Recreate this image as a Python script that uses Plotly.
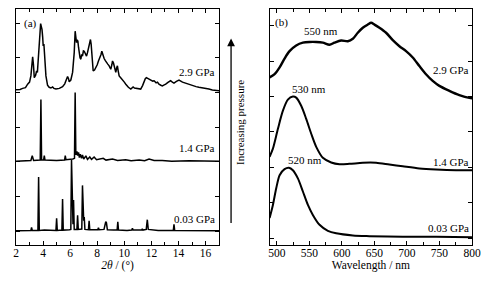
import plotly.graph_objects as go

# ---------------- Panel (a): XRD patterns (2theta, offset intensity) ----------------
xrd_29 = [(2.0, 4.08), (2.3, 4.09), (2.49, 4.12), (2.7, 4.14), (2.86, 4.24), (3.0, 4.3), (3.1, 4.48),
          (3.17, 4.7), (3.23, 5.03), (3.29, 4.8), (3.35, 4.43), (3.45, 4.5), (3.52, 4.62), (3.58, 4.58),
          (3.62, 4.86), (3.72, 5.24), (3.78, 5.7), (3.82, 5.99), (3.87, 5.9), (3.92, 5.82), (3.97, 5.6),
          (4.01, 5.34), (4.06, 5.4), (4.09, 5.15), (4.15, 4.8), (4.21, 4.48), (4.33, 4.21), (4.45, 4.15),
          (4.58, 4.13), (4.7, 4.16), (4.8, 4.12), (4.95, 4.10), (5.2, 4.12), (5.44, 4.17), (5.6, 4.25),
          (5.69, 4.34), (5.81, 4.46), (5.88, 4.4), (5.93, 4.31), (6.05, 4.36), (6.18, 4.58), (6.3, 5.15),
          (6.37, 5.77), (6.42, 5.6), (6.47, 5.44), (6.52, 5.52), (6.57, 5.48), (6.62, 5.3), (6.67, 5.05),
          (6.73, 5.0), (6.79, 4.96), (6.85, 5.1), (6.91, 5.05), (6.98, 5.2), (7.04, 5.19), (7.12, 5.1),
          (7.21, 5.05), (7.28, 5.15), (7.36, 5.29), (7.43, 5.4), (7.5, 5.53), (7.55, 5.4), (7.6, 5.15),
          (7.65, 4.85), (7.7, 4.62), (7.8, 4.65), (7.9, 4.72), (8.0, 4.8), (8.09, 4.91), (8.2, 5.0),
          (8.28, 5.1), (8.34, 5.19), (8.42, 5.05), (8.51, 4.98), (8.6, 4.92), (8.68, 4.86), (8.78, 4.82),
          (8.88, 4.77), (9.0, 4.67), (9.08, 4.8), (9.13, 4.91), (9.2, 4.85), (9.25, 4.77), (9.3, 4.7),
          (9.37, 4.58), (9.43, 4.7), (9.49, 4.77), (9.55, 4.62), (9.62, 4.48), (9.75, 4.42), (9.86, 4.38),
          (10.0, 4.3), (10.11, 4.24), (10.3, 4.15), (10.48, 4.10), (10.58, 4.13), (10.65, 4.16),
          (10.75, 4.13), (10.85, 4.12), (11.0, 4.11), (11.21, 4.10), (11.35, 4.2), (11.46, 4.34),
          (11.55, 4.4), (11.63, 4.43), (11.75, 4.4), (11.85, 4.38), (11.95, 4.36), (12.1, 4.33),
          (12.2, 4.34), (12.35, 4.28), (12.45, 4.3), (12.56, 4.24), (12.7, 4.21), (12.81, 4.19),
          (12.95, 4.22), (13.06, 4.24), (13.25, 4.3), (13.42, 4.34), (13.55, 4.3), (13.67, 4.27),
          (13.85, 4.32), (14.04, 4.36), (14.3, 4.3), (14.53, 4.27), (14.8, 4.22), (15.02, 4.19),
          (15.3, 4.17), (15.51, 4.15), (15.75, 4.14), (16.0, 4.12), (16.25, 4.1), (16.5, 4.07),
          (16.75, 4.07), (17.0, 4.05)]

xrd_14 = [(2.0, 2.02), (2.6, 2.03), (3.1, 2.04), (3.2, 2.18), (3.3, 2.04), (3.79, 2.05), (3.84, 3.8),
          (3.89, 2.05), (4.04, 2.05), (4.09, 2.18), (4.14, 2.05), (5.0, 2.04), (5.59, 2.05), (5.64, 2.18),
          (5.69, 2.06), (6.2, 2.08), (6.32, 2.1), (6.37, 4.0), (6.42, 2.2), (6.5, 2.3), (6.55, 2.18),
          (6.62, 2.27), (6.68, 2.12), (6.75, 2.22), (6.84, 2.1), (6.91, 2.2), (7.0, 2.08), (7.16, 2.17),
          (7.28, 2.07), (7.45, 2.14), (7.58, 2.07), (7.77, 2.14), (7.95, 2.06), (8.44, 2.1), (8.65, 2.05),
          (9.13, 2.08), (9.5, 2.04), (10.1, 2.06), (10.5, 2.03), (11.1, 2.05), (11.5, 2.03), (11.83, 2.08),
          (12.2, 2.04), (12.8, 2.04), (13.5, 2.02), (14.8, 2.03), (15.8, 2.02), (17.0, 2.02)]

xrd_003 = [(2.0, 0.01), (2.6, 0.02), (3.1, 0.02), (3.15, 0.11), (3.2, 0.02), (3.62, 0.02), (3.67, 1.56),
           (3.72, 0.02), (4.1, 0.03), (4.95, 0.02), (5.0, 0.37), (5.05, 0.02), (5.39, 0.03), (5.44, 0.93),
           (5.49, 0.03), (5.95, 0.04), (6.05, 0.05), (6.1, 2.05), (6.16, 0.4), (6.21, 0.2), (6.25, 0.9),
           (6.3, 0.05), (6.5, 0.05), (6.55, 0.46), (6.6, 0.05), (6.86, 0.06), (6.91, 1.32), (6.96, 0.3),
           (7.0, 0.3), (7.04, 0.41), (7.09, 0.05), (7.35, 0.04), (7.4, 0.3), (7.45, 0.04), (7.8, 0.03),
           (8.04, 0.04), (8.09, 0.1), (8.14, 0.04), (8.5, 0.05), (8.58, 0.24), (8.63, 0.27), (8.68, 0.24),
           (8.75, 0.04), (9.2, 0.03), (9.47, 0.03), (9.52, 0.27), (9.57, 0.03), (10.2, 0.02), (10.55, 0.03),
           (10.6, 0.08), (10.65, 0.03), (11.0, 0.03), (11.28, 0.03), (11.33, 0.07), (11.38, 0.03),
           (11.62, 0.05), (11.7, 0.33), (11.77, 0.05), (12.5, 0.02), (13.62, 0.02), (13.67, 0.2),
           (13.72, 0.02), (14.5, 0.02), (15.5, 0.02), (16.5, 0.01), (17.0, 0.01)]

# ---------------- Panel (b): PL spectra (wavelength nm, offset intensity) ----------------
pl_003 = [(488.8, 0.57), (493.9, 0.94), (499.0, 1.41), (504.2, 1.78), (511.8, 1.95), (518.5, 1.99),
          (524.6, 1.92), (532.3, 1.69), (540.0, 1.32), (547.7, 0.94), (555.3, 0.66), (565.6, 0.38),
          (578.4, 0.21), (591.2, 0.14), (616.8, 0.08), (642.3, 0.06), (693.5, 0.04), (744.7, 0.04),
          (801.0, 0.03)]

pl_14 = [(488.8, 2.30), (493.9, 2.53), (501.6, 3.09), (509.3, 3.60), (516.9, 3.91), (524.6, 4.00),
         (529.7, 3.97), (537.4, 3.74), (545.1, 3.37), (552.8, 2.95), (560.5, 2.58), (570.7, 2.27),
         (583.5, 2.14), (596.3, 2.09), (611.6, 2.10), (632.1, 2.13), (652.6, 2.13), (673.0, 2.08),
         (693.5, 2.03), (719.1, 1.97), (744.7, 1.94), (775.4, 1.92), (801.0, 1.92)]

pl_29 = [(488.8, 4.54), (496.5, 4.63), (504.2, 4.82), (511.8, 5.07), (519.5, 5.28), (529.7, 5.44),
         (540.0, 5.52), (550.2, 5.54), (560.5, 5.54), (570.7, 5.52), (580.9, 5.46), (588.6, 5.52),
         (598.8, 5.58), (609.1, 5.56), (616.8, 5.63), (624.4, 5.80), (632.1, 5.94), (639.8, 6.03),
         (644.9, 6.08), (650.0, 6.03), (657.7, 5.94), (667.9, 5.80), (678.2, 5.59), (688.4, 5.42),
         (698.6, 5.28), (708.9, 5.10), (719.1, 4.86), (729.3, 4.63), (739.6, 4.44), (749.8, 4.30),
         (765.2, 4.16), (780.5, 4.04), (795.9, 3.96), (802.0, 3.95)]

pressure_labels = ["2.9 GPa", "1.4 GPa", "0.03 GPa"]
peak_labels = ["550 nm", "530 nm", "520 nm"]
xrd_ticks = [2, 4, 6, 8, 10, 12, 14, 16]
pl_ticks = [500, 550, 600, 650, 700, 750, 800]

FONT = "Liberation Serif"
# The page body has an 8px default margin; size the figure so that it fits the window.
W, H = 478, 265
ML, MR, MT, MB = 8, 13.5, 0.5, 28
PW = W - ML - MR
PH = H - MT - MB
# plot-area edges in window pixels
SL, SB = 16, 245

fig = go.Figure()

def unzip(pairs):
    return [p[0] for p in pairs], [p[1] for p in pairs]

for series in (xrd_29, xrd_14, xrd_003):
    xs, ys = unzip(series)
    fig.add_trace(go.Scatter(x=xs, y=ys, mode="lines", xaxis="x", yaxis="y",
                             line=dict(color="black", width=1.5), showlegend=False, hoverinfo="skip"))

for series, w in ((pl_29, 2.4), (pl_14, 2.0), (pl_003, 2.0)):
    xs, ys = unzip(series)
    fig.add_trace(go.Scatter(x=xs, y=ys, mode="lines", xaxis="x2", yaxis="y2",
                             line=dict(color="black", width=w, shape="spline", smoothing=0.8),
                             showlegend=False, hoverinfo="skip"))

axis_common = dict(showline=True, linecolor="black", linewidth=1.3, mirror="ticks",
                   ticks="inside", ticklen=4, tickwidth=1.2, tickcolor="black",
                   showgrid=False, zeroline=False, automargin=False,
                   tickfont=dict(family=FONT, size=11.5, color="black"))

fig.update_layout(
    width=W, height=H, margin=dict(l=ML, r=MR, t=MT, b=MB, autoexpand=False),
    paper_bgcolor="white", plot_bgcolor="white",
    font=dict(family=FONT, size=11, color="black"),
    xaxis=dict(domain=[0, (219.3 - SL) / PW], range=[2, 17], tickvals=xrd_ticks, ticklabelstandoff=-3,
               minor=dict(dtick=1, tick0=0, ticks="inside", ticklen=3, tickcolor="black", tickwidth=1.0),
               title=dict(text="<i>2θ</i> / (°)", font=dict(family=FONT, size=11.5), standoff=0),
               anchor="y", **axis_common),
    yaxis=dict(domain=[0, 1], range=[-0.4, 6.41], dtick=1, tick0=0, showticklabels=False,
               anchor="x", **axis_common),
    xaxis2=dict(domain=[(270 - SL) / PW, 1], range=[489, 800], tickvals=pl_ticks, ticklabelstandoff=-3,
                minor=dict(dtick=25, tick0=0, ticks="inside", ticklen=3, tickcolor="black", tickwidth=1.0),
                title=dict(text="Wavelength / nm", font=dict(family=FONT, size=11.5), standoff=0),
                anchor="y2", **axis_common),
    yaxis2=dict(domain=[0, 1], range=[-0.19, 6.47], dtick=1, tick0=0, showticklabels=False,
                anchor="x2", **axis_common),
)

ann = []
# panel (a) labels
ann.append(dict(x=3.05, y=6.0, xref="x", yref="y", text="(a)", showarrow=False,
                font=dict(family=FONT, size=11)))
for lab, yv in zip(pressure_labels, [4.58, 2.4, 0.36]):
    ann.append(dict(x=16.85, y=yv, xref="x", yref="y", text=lab, showarrow=False,
                    xanchor="right", font=dict(family=FONT, size=11)))
# panel (b) labels
ann.append(dict(x=506.8, y=6.1, xref="x2", yref="y2", text="(b)", showarrow=False,
                font=dict(family=FONT, size=11)))
for lab, yv in zip(pressure_labels, [4.74, 2.16, 0.29]):
    ann.append(dict(x=798.5, y=yv, xref="x2", yref="y2", text=lab, showarrow=False,
                    xanchor="right", font=dict(family=FONT, size=11)))
for lab, xv, yv in zip(peak_labels, [568.2, 548.7, 542.5], [5.84, 4.21, 2.20]):
    ann.append(dict(x=xv, y=yv, xref="x2", yref="y2", text=lab, showarrow=False,
                    font=dict(family=FONT, size=11)))

def px(xp):
    return (xp - SL) / PW
def py(yp):
    return (SB - yp) / PH

ann.append(dict(x=px(231.3), y=py(38), xref="paper", yref="paper", text="",
                showarrow=True, ax=0, ay=186, axref="pixel", ayref="pixel",
                arrowhead=2, arrowsize=1.2, arrowwidth=1.3, arrowcolor="black"))
ann.append(dict(x=px(241), y=py(122), xref="paper", yref="paper",
                text="Increasing pressure", textangle=-90, showarrow=False,
                font=dict(family=FONT, size=11)))
fig.update_layout(annotations=ann)

fig.write_html("out.html")
